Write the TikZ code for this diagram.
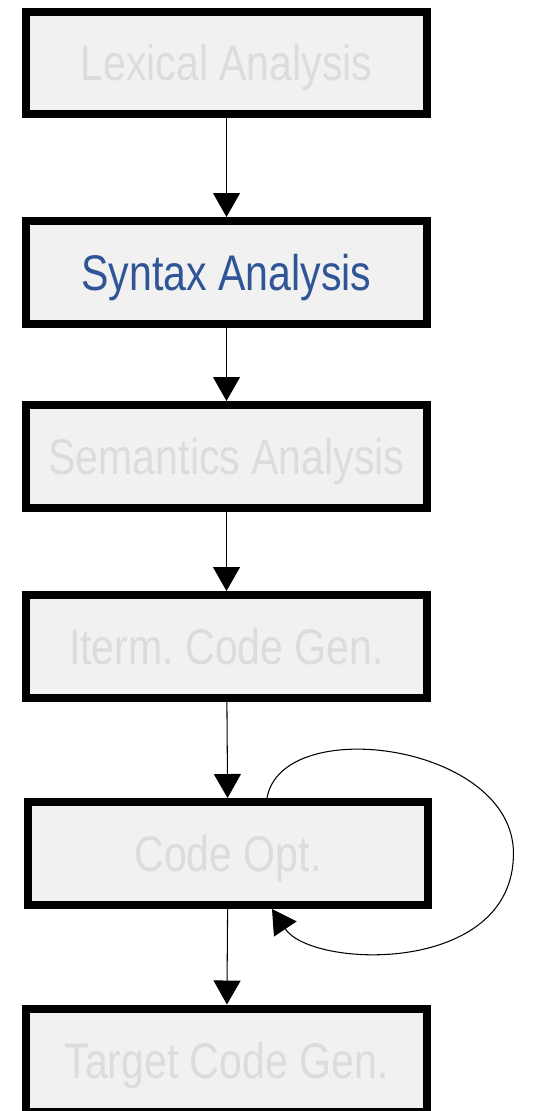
\documentclass[tikz,border=0pt]{standalone}
\usepackage{fontspec}
\setmainfont{Liberation Sans}[FakeStretch=0.82]
\definecolor{cpfill}{HTML}{F1F1F1}
\definecolor{cpfaded}{HTML}{DCDCDC}
\definecolor{cpblue}{HTML}{2F5597}
\usepackage{tikz}
\usetikzlibrary{arrows.meta, calc}
\frenchspacing

\begin{document}
\begin{tikzpicture}[x=0.02cm, y=-0.02cm,
    phase/.style={draw, line width=0.16cm, fill=cpfill, minimum width=8.02cm,
                  minimum height=2.06cm, inner sep=0pt, text=cpfaded,
                  font=\fontsize{28.5}{30}\selectfont, text height=0.72cm, text depth=0.0cm},
    flow/.style={-{Triangle[length=0.48cm, width=0.54cm]}, line width=0.6pt}
  ]
    \useasboundingbox (0,0) rectangle (535,1111);

    \node[phase] (lex) at (226.5,63) {Lexical Analysis};
    \node[phase, text=cpblue] (syn) at (226.5,272.5) {Syntax Analysis};
    \node[phase] (sem) at (226.5,456.5) {Semantics Analysis};
    \node[phase] (icg) at (226.5,646.5) {Iterm. Code Gen.};
    \node[phase] (opt) at (228,853.5) {Code Opt.};
    \node[phase] (tcg) at (226.5,1060) {Target Code Gen.};

    \draw[flow] (lex) -- (syn);
    \draw[flow] (syn) -- (sem);
    \draw[flow] (sem) -- (icg);
    \draw[flow] (icg) -- (opt);
    \draw[flow] (opt) -- (tcg);

    % self loop on the optimiser
    \coordinate (loopR) at ($(opt.east)+(81,0)$);
    \draw[flow] ([xshift=0.78cm]opt.north) .. controls +(15,-85) and +(0,-110) .. (loopR)
                .. controls +(0,122) and +(40,60) .. ([xshift=0.88cm]opt.south);
  \end{tikzpicture}
\end{document}
